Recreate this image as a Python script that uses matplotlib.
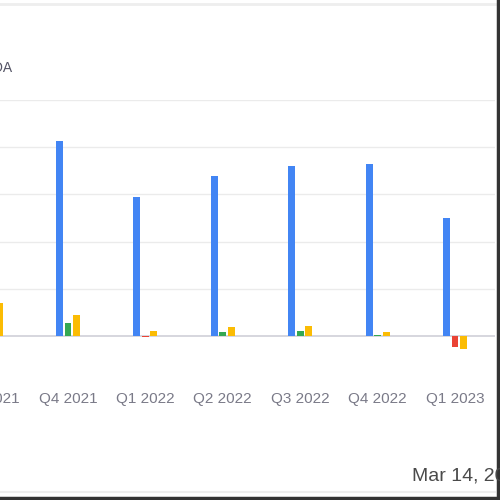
import numpy as np
import matplotlib
matplotlib.use('Agg')
import matplotlib.pyplot as plt
from matplotlib.lines import Line2D

plt.rcParams['font.family'] = ['Liberation Sans', 'DejaVu Sans']

# data (in gridline units)
quarters = ['Q3 2021', 'Q4 2021', 'Q1 2022', 'Q2 2022', 'Q3 2022', 'Q4 2022', 'Q1 2023']
blue_vals = [3.0, 4.13, 2.94, 3.39, 3.6, 3.64, 2.5]
mid_vals = [0.2, 0.27, -0.02, 0.09, 0.1, 0.01, -0.23]
yellow_vals = [0.7, 0.45, 0.11, 0.19, 0.2, 0.08, -0.27]
grid_levels = [1, 2, 3, 4, 5]

c_blue = '#4285F4'
c_green = '#34A853'
c_red = '#EA4335'
c_yellow = '#FBBC04'

fig = plt.figure(figsize=(5, 5), dpi=100)
# axes runs off the left edge (cropped view), baseline at y=336 px, grid step 47 px
ax = fig.add_axes([-60/500, 1 - 380/500, 555/500, (380-100)/500])
x = np.arange(len(quarters))
w = 0.09
ax.bar(x - 0.11, blue_vals, w, color=c_blue, zorder=3)
mid_cols = [c_green if v >= 0 else c_red for v in mid_vals]
ax.bar(x, mid_vals, w, color=mid_cols, zorder=3)
ax.bar(x + 0.11, yellow_vals, w, color=c_yellow, zorder=3)

for g in grid_levels:
    ax.axhline(g, color='#ebebeb', lw=1, zorder=1)
ax.axhline(0, color='#d0d0d8', lw=1.2, zorder=2)

ax.set_yticks([])
ax.set_xticks(x)
ax.set_xticklabels(quarters, fontsize=11, color='#7a7a88')
ax.tick_params(axis='x', length=0, pad=9)
ax.set_xlim(-0.654, 6.517)
ax.set_ylim(-44/47, 5.0)
for s in ax.spines.values():
    s.set_visible(False)

fig.text(13/500, 1 - 68/500, 'EBITDA', ha='right', va='center', fontsize=10, color='#555566')
fig.text(412/500, 1 - 476/500, 'Mar 14, 2024', ha='left', va='center', fontsize=14, color='#4a4a4a')

# frame lines of the crop
fig.add_artist(Line2D([0, 0.99], [1 - 4/500, 1 - 4/500], color='#eeeeee', lw=2))
fig.add_artist(Line2D([0, 0.99], [1 - 492/500, 1 - 492/500], color='#eeeeee', lw=1.5))
fig.add_artist(Line2D([498/500, 498/500], [0, 1], color='#333333', lw=2.5))
fig.add_artist(Line2D([0, 1], [2/500, 2/500], color='#333333', lw=2.5))

fig.savefig('out.png', dpi=100)
